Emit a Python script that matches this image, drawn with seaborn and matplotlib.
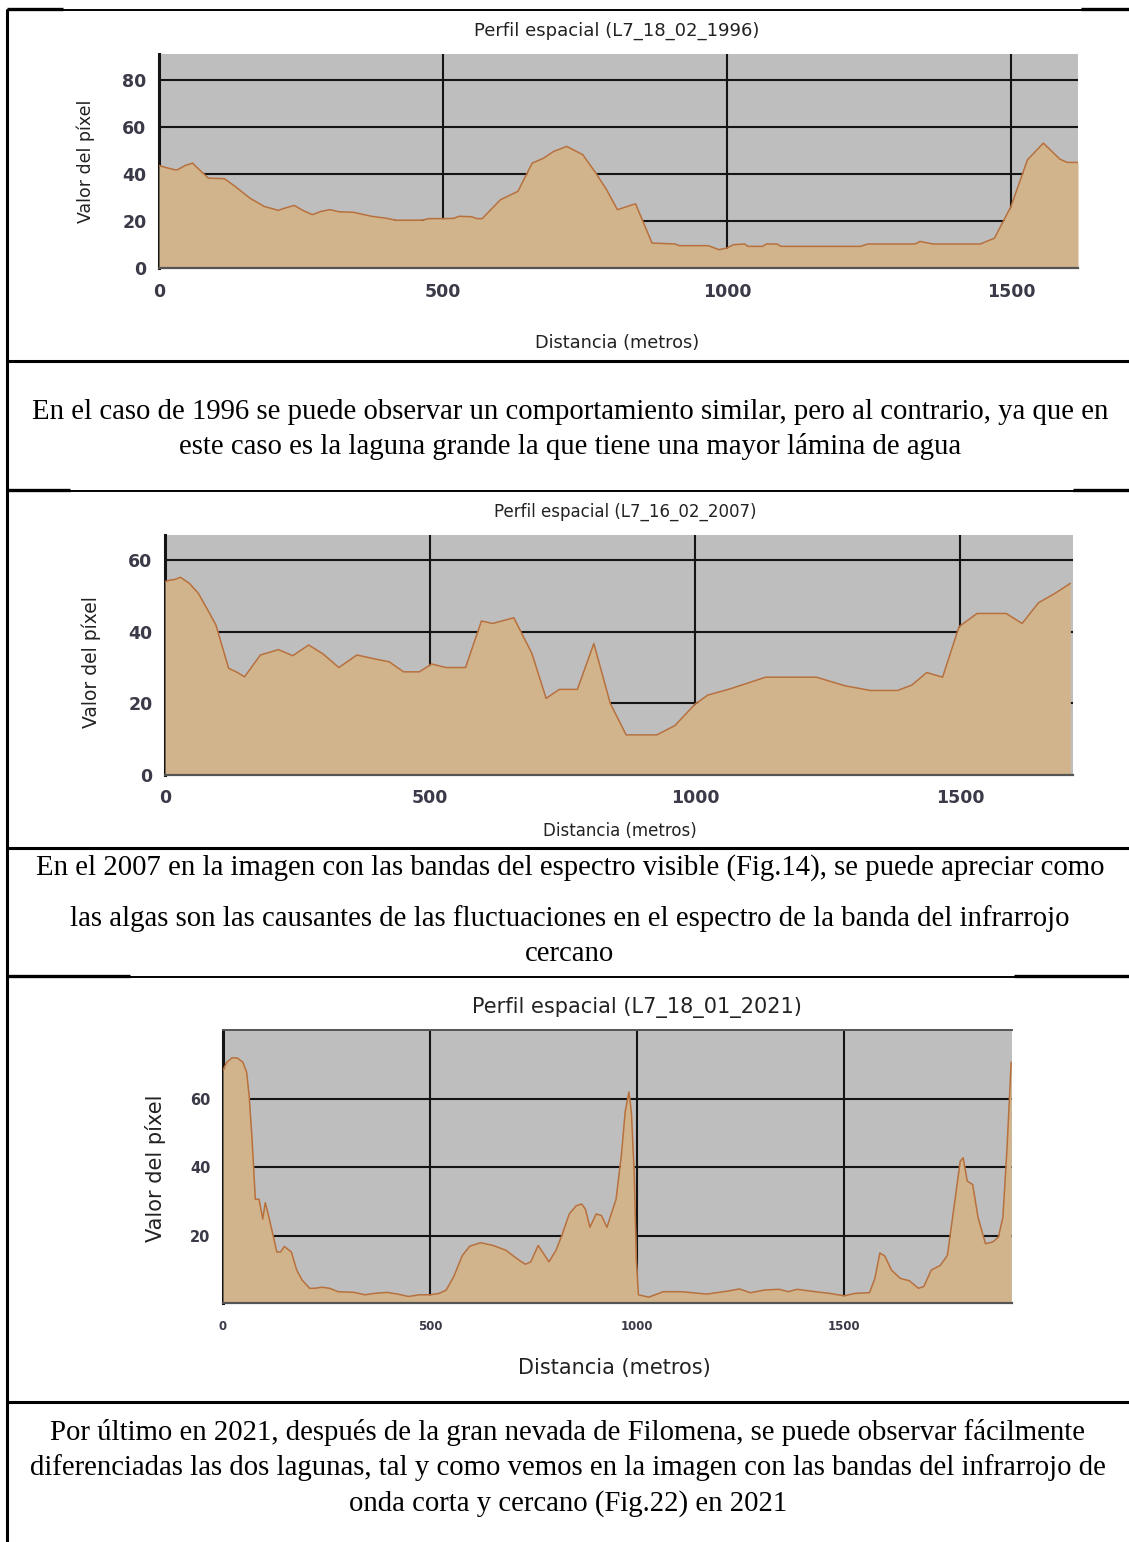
#perfiles espaciales (QGIS) de las lagunas para 1996, 2007 y 2021
#cada perfil va en su celda de la tabla, con el comentario debajo

import pandas as pd
import seaborn as sns
import matplotlib.pyplot as plt

W, H = 1129, 1542

dist_1996 = [0, 11, 27, 33, 46, 59, 68, 87, 115, 134, 160, 185, 210, 222, 238, 254, 270, 286, 301, 317,
             342, 374, 399, 418, 462, 475, 500, 519, 528, 550, 560, 569, 601, 632, 657, 677, 695, 718,
             746, 769, 788, 807, 839, 868, 909, 916, 967, 986, 1000, 1011, 1031, 1037, 1063, 1069, 1088,
             1095, 1235, 1248, 1331, 1340, 1363, 1446, 1471, 1500, 1529, 1557, 1586, 1599, 1618]
val_1996 = [43.6, 42.8, 41.8, 41.8, 43.6, 44.6, 42.5, 38.2, 38, 34.7, 29.7, 26.2, 24.5, 25.5, 26.6, 24.4,
            22.7, 24.1, 24.8, 23.9, 23.7, 22, 21.2, 20.3, 20.3, 21, 21, 21.1, 22, 21.8, 21, 21, 29, 32.6,
            44.6, 46.7, 49.6, 51.7, 48.2, 40.4, 33.3, 24.8, 27.3, 10.6, 10.2, 9.5, 9.5, 7.8, 8.5, 9.9,
            10.2, 9.2, 9.2, 10.2, 10.2, 9.2, 9.2, 10.2, 10.2, 11.3, 10.2, 10.2, 12.7, 26.2, 46, 53.1,
            46.3, 44.9, 44.9]

dist_2007 = [0, 9, 19, 29, 46, 63, 79, 96, 120, 137, 150, 180, 194, 214, 241, 271, 298, 328, 362, 396,
             423, 450, 480, 503, 530, 567, 597, 618, 658, 692, 719, 744, 778, 809, 840, 870, 928, 962,
             1000, 1024, 1065, 1133, 1229, 1283, 1331, 1382, 1409, 1437, 1467, 1498, 1532, 1587, 1617,
             1648, 1679, 1708]
val_2007 = [54, 54.4, 54.6, 55.2, 53.5, 50.7, 46.5, 41.9, 29.8, 28.6, 27.4, 33.5, 34.1, 35, 33.3, 36.3,
            33.8, 30, 33.5, 32.4, 31.6, 28.8, 28.8, 31, 30, 30, 43, 42.3, 43.9, 34, 21.4, 23.9, 23.9,
            36.7, 20, 11.2, 11.2, 13.8, 19.8, 22.3, 24, 27.3, 27.3, 24.9, 23.6, 23.6, 25.1, 28.6, 27.3,
            41.4, 45.1, 45.1, 42.3, 48.1, 50.7, 53.5]

dist_2021 = [0, 9, 22, 35, 48, 57, 63, 70, 74, 78, 87, 96, 102, 109, 122, 130, 139, 148, 165, 178, 191,
             209, 222, 239, 257, 278, 317, 343, 365, 396, 422, 448, 474, 500, 522, 539, 557, 578, 596,
             622, 652, 683, 709, 730, 743, 761, 774, 787, 804, 818, 836, 853, 866, 875, 886, 901, 914,
             927, 949, 962, 971, 980, 986, 993, 998, 1003, 1028, 1063, 1107, 1168, 1220, 1247, 1273,
             1308, 1343, 1365, 1386, 1430, 1465, 1500, 1526, 1561, 1574, 1586, 1598, 1614, 1635, 1657,
             1679, 1692, 1710, 1732, 1749, 1767, 1780, 1787, 1797, 1810, 1823, 1841, 1858, 1872, 1883,
             1893, 1903]
val_2021 = [68.2, 70.6, 71.9, 71.8, 70.6, 67.7, 61, 48.4, 39.8, 30.6, 30.6, 24.8, 29.6, 26.3, 19.5,
            15.2, 15.2, 16.8, 15.2, 9.9, 7, 4.6, 4.6, 4.9, 4.6, 3.6, 3.4, 2.7, 3.1, 3.4, 2.9, 2.2, 2.7,
            2.7, 3.1, 4.1, 8, 14.2, 16.9, 17.9, 17.1, 15.7, 13.3, 11.6, 12.3, 17.1, 14.7, 12.3, 15.7, 20,
            26.3, 28.7, 29.2, 27.7, 22.4, 26.3, 25.8, 22.4, 30.6, 43.6, 56.1, 61.9, 56.1, 37.8, 12.8,
            2.7, 2, 3.6, 3.6, 2.9, 3.8, 4.4, 3.3, 4.1, 4.3, 3.6, 4.3, 3.6, 3.1, 2.4, 3.1, 3.3, 7.5,
            14.9, 14, 9.9, 7.5, 6.8, 4.6, 5.1, 9.9, 11.3, 14.2, 30.1, 41.7, 42.7, 35.9, 34.9, 25.3,
            17.6, 18.1, 19.5, 25.3, 45.5, 70.6]

x_ticks = [0, 500, 1000, 1500]

titulos = ['Perfil espacial (L7_18_02_1996)', 'Perfil espacial (L7_16_02_2007)',
           'Perfil espacial (L7_18_01_2021)']

texto_1996 = ['En el caso de 1996 se puede observar un comportamiento similar, pero al contrario, ya que en',
              'este caso es la laguna grande la que tiene una mayor lámina de agua']
texto_2007 = ['En el 2007 en la imagen con las bandas del espectro visible (Fig.14), se puede apreciar como',
              'las algas son las causantes de las fluctuaciones en el espectro de la banda del infrarrojo',
              'cercano']
texto_2021 = ['Por último en 2021, después de la gran nevada de Filomena, se puede observar fácilmente',
              'diferenciadas las dos lagunas, tal y como vemos en la imagen con las bandas del infrarrojo de',
              'onda corta y cercano (Fig.22) en 2021']

sns.set_style('white')
plt.rcParams['font.family'] = ['DejaVu Sans']

fig = plt.figure(figsize=(W / 100, H / 100), dpi=100)

#fondo en pixeles para la tabla y los textos
bg = fig.add_axes([0, 0, 1, 1])
bg.set_xlim(0, W)
bg.set_ylim(H, 0)
bg.axis('off')

bg.vlines(7, 9, H, color='black', lw=2.2)
for y, lw in [(10, 1.4), (491, 1.4), (977, 1.4), (361, 2.2), (848, 2.2), (1402, 2.2)]:
    bg.hlines(y, 7, W, color='black', lw=lw)
for y, a, b in [(9, 7, 63), (9, 1081, W), (490, 7, 70), (490, 1073, W), (976, 7, 130), (976, 1014, W)]:
    bg.hlines(y, a, b, color='black', lw=2.4)


def px_axes(left, top, right, bottom):
    return fig.add_axes([left / W, 1 - bottom / H, (right - left) / W, (bottom - top) / H])


def perfil(ax, dist, val, xmax, ylim, yticks, xfs, yfs, ypad, xpad, top_line=False):
    df = pd.DataFrame({'dist': dist, 'val': val})
    ax.set_facecolor('#bebebe')
    ax.fill_between(df['dist'], df['val'], ylim[0], color='#d2b48c', lw=0, zorder=1)
    sns.lineplot(data=df, x='dist', y='val', ax=ax, color='#b8703c', lw=1.1, zorder=2)
    ax.set_xlim(0, xmax)
    ax.set_ylim(*ylim)
    ax.set_xticks(x_ticks)
    ax.set_yticks(yticks)
    ax.set_axisbelow(True)
    ax.grid(True, color='#141414', lw=1.5)
    ax.xaxis.label.set_visible(False)
    ax.yaxis.label.set_visible(False)
    for s in ['right', 'top']:
        ax.spines[s].set_visible(False)
    ax.spines['left'].set_color('#141414')
    ax.spines['left'].set_linewidth(2.2)
    ax.spines['left'].set_zorder(0.6)
    ax.spines['bottom'].set_color('#555555')
    ax.spines['bottom'].set_linewidth(1.6)
    if top_line:
        ax.spines['top'].set_visible(True)
        ax.spines['top'].set_color('#555555')
        ax.spines['top'].set_linewidth(1.4)
    ax.tick_params(axis='both', direction='out', length=4, width=1, color='#444444')
    ax.tick_params(axis='x', labelsize=xfs, pad=xpad)
    ax.tick_params(axis='y', labelsize=yfs, pad=ypad)
    for lab in ax.get_xticklabels() + ax.get_yticklabels():
        lab.set_fontweight('bold')
        lab.set_color('#3a3a48')


#1996
ax1 = px_axes(159, 54, 1078, 268)
perfil(ax1, dist_1996, val_1996, 1618, (0, 91), [0, 20, 40, 60, 80], 12.5, 12.5, 5, 7)
bg.text(617, 31, titulos[0], ha='center', va='center', fontsize=13, color='#222222')
bg.text(617, 343, 'Distancia (metros)', ha='center', va='center', fontsize=12.8, color='#222222')
bg.text(86, 161, 'Valor del píxel', ha='center', va='center', rotation=90, fontsize=12.5, color='#222222')

#2007
ax2 = px_axes(165, 535, 1073, 775)
perfil(ax2, dist_2007, val_2007, 1713, (0, 67), [0, 20, 40, 60], 12.5, 12.5, 5, 6)
bg.text(625, 512, titulos[1], ha='center', va='center', fontsize=12, color='#222222')
bg.text(620, 831, 'Distancia (metros)', ha='center', va='center', fontsize=12, color='#222222')
bg.text(91, 662, 'Valor del píxel', ha='center', va='center', rotation=90, fontsize=13.5, color='#222222')

#2021
ax3 = px_axes(223, 1030, 1012, 1303)
perfil(ax3, dist_2021, val_2021, 1905, (0.3, 80), [20, 40, 60], 8.5, 10.5, 5, 8, top_line=True)
bg.text(637, 1007, titulos[2], ha='center', va='center', fontsize=15, color='#222222')
bg.text(614, 1368, 'Distancia (metros)', ha='center', va='center', fontsize=15, color='#222222')
bg.text(155, 1168, 'Valor del píxel', ha='center', va='center', rotation=90, fontsize=15, color='#222222')

#comentarios de cada perfil
serif = dict(ha='center', va='center', fontsize=20.7, family='Liberation Serif', color='black')
for y, s in zip([412, 446], texto_1996):
    bg.text(570, y, s, **serif)
for y, s in zip([868, 919, 954], texto_2007):
    bg.text(570, y, s, **serif)
for y, s in zip([1432, 1468, 1504], texto_2021):
    bg.text(568, y, s, **serif)

plt.savefig('out.png', dpi=100)
